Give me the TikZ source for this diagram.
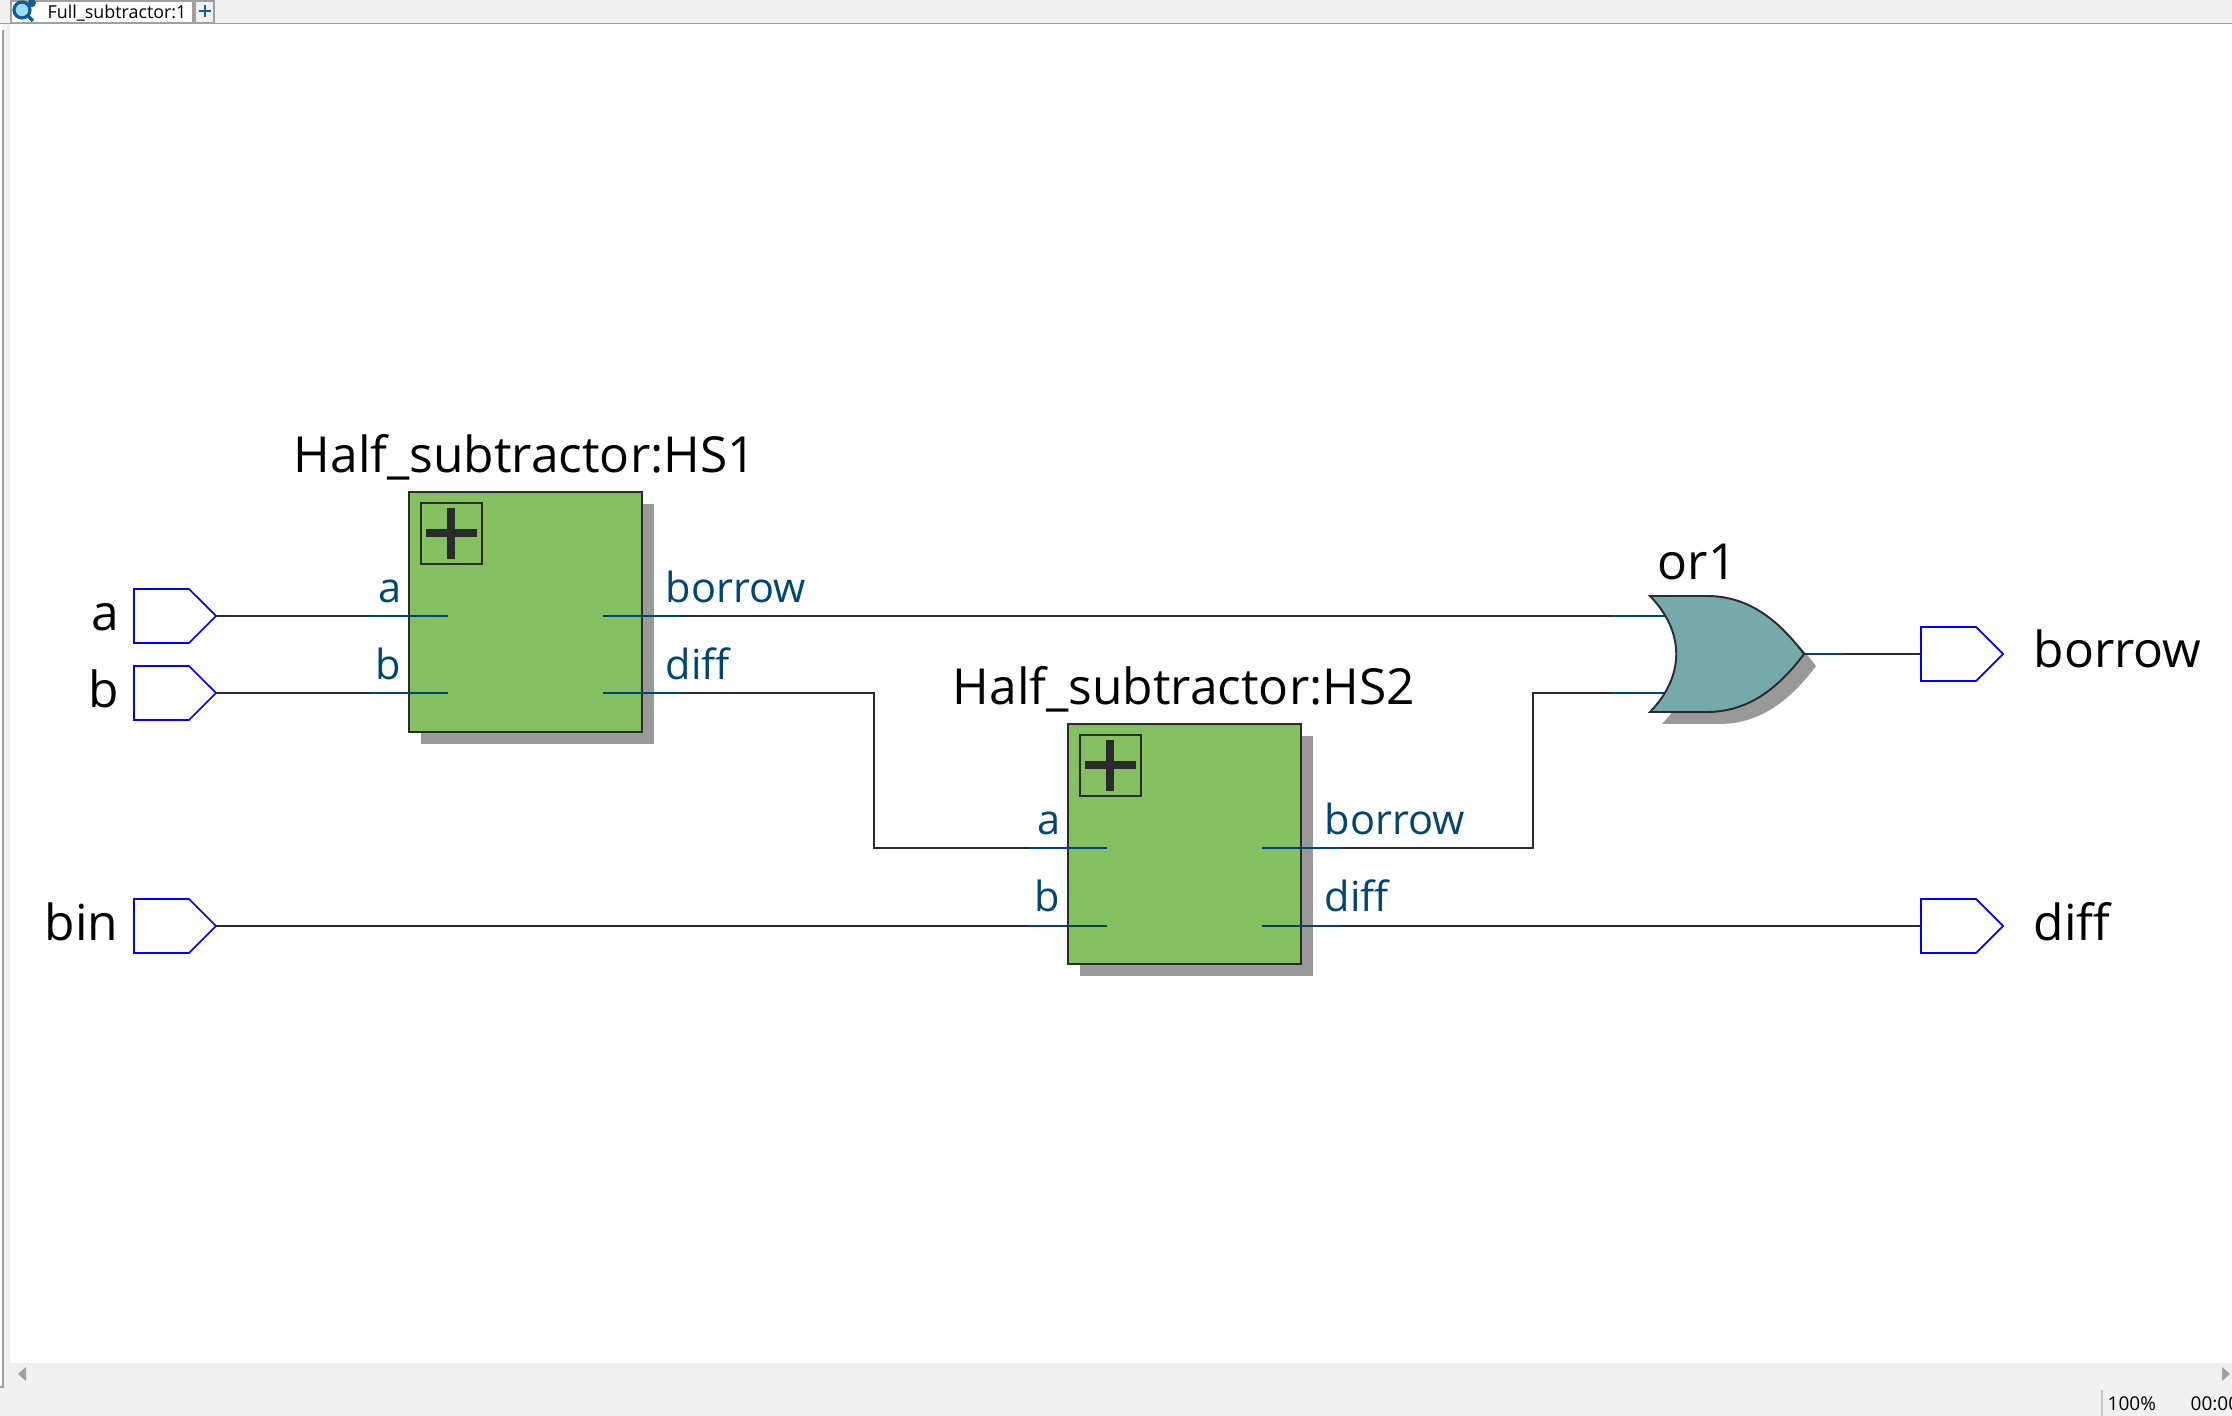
\documentclass[tikz,border=0pt]{standalone}
\usepackage{fontspec}
\setmainfont{Open Sans}
\usetikzlibrary{shapes.symbols,shadows}
\definecolor{barGray}{HTML}{F0F0F0}
\definecolor{edgeGray}{HTML}{A0A0A0}
\definecolor{shadowGray}{HTML}{999999}
\definecolor{wireDark}{HTML}{2B2B2B}
\definecolor{portBlue}{HTML}{004673}
\definecolor{pinBlue}{HTML}{0000FF}
\definecolor{boxGreen}{HTML}{84BF60}
\definecolor{gateTeal}{HTML}{74ABAA}
\definecolor{iconBlue}{HTML}{0F5C96}
\tikzset{
  wire/.style={draw=wireDark,line width=0.47pt},
  stub/.style={draw=portBlue,line width=0.5pt},
  pin/.style={signal,signal to=east,signal pointer angle=90,draw=pinBlue,line width=0.5pt,anchor=west,
    minimum width=82*0.01cm,minimum height=54*0.01cm,inner sep=0pt,outer sep=0pt},
  block/.style={draw=wireDark,line width=0.6pt,fill=boxGreen,anchor=north west,
    minimum width=233*0.01cm,minimum height=240*0.01cm,inner sep=0pt,outer sep=0pt,
    general shadow={shadow xshift=0.12cm,shadow yshift=-0.12cm,fill=shadowGray,draw=none}},
  bigtext/.style={font=\fontsize{14.13}{16}\selectfont,text=black,inner sep=0pt},
  porttext/.style={font=\fontsize{11.8}{14}\selectfont,text=portBlue,inner sep=0pt},
  bartext/.style={font=\fontsize{5.4}{7}\selectfont,text=black,inner sep=0pt,anchor=base west}
}
\begin{document}
\begin{tikzpicture}[x=0.01cm,y=-0.01cm]
  \useasboundingbox (0,0) rectangle (2232,1416);
  % window
  \fill[barGray] (0,0) rectangle (2232,1416);
  \fill[white] (10,24) rectangle (2232,1363);
  \fill[white] (0,24) rectangle (3,1387);
  \draw[edgeGray,line width=0.4pt] (3,30) -- (3,1387) -- (0,1387);
  \draw[edgeGray,line width=0.4pt] (0,23.5) -- (2232,23.5);
  \draw[edgeGray,fill=white,line width=0.4pt] (11,1) rectangle (193,23);
  \draw[edgeGray,fill=barGray,line width=0.4pt] (195,1) rectangle (214,23);
  \draw[iconBlue,line width=0.6pt] (205,5) -- (205,17) (199,11) -- (211,11);
  \draw[iconBlue,fill=cyan!40,line width=0.9pt] (22,10) circle (8);
  \draw[iconBlue,line width=1pt] (28,16) -- (33,21);
  \fill[iconBlue] (32,3) circle (4);
  \node[bartext,font=\fontsize{5.08}{7}\selectfont] (tabtext) at (47,19) {Full\_subtractor:1};
  \fill[edgeGray] (26,1367) -- (26,1381) -- (18,1374) -- cycle;
  \fill[edgeGray] (2222,1367) -- (2222,1381) -- (2230,1374) -- cycle;
  \draw[edgeGray!60,line width=0.4pt] (2102,1390) -- (2102,1416);
  \node[bartext] (zoomtext) at (2107,1410) {100\%};
  \node[bartext] (timetext) at (2190,1410) {00:00};
  % blocks
  \foreach \id / \x / \y in {hs1/409/492, hs2/1068/724}{
    \node[block] (\id) at (\x,\y) {};
    \draw[wireDark,line width=0.5pt] (\x+12,\y+11) rectangle (\x+73,\y+72);
    \draw[wireDark,line width=2pt] (\x+17,\y+41) -- (\x+68,\y+41) (\x+42,\y+16) -- (\x+42,\y+67);
  }
  % gate
  \def\orGate{(1650,596) -- (1707,596) .. controls (1750,596) and (1780,622) .. (1804,654)
    .. controls (1780,686) and (1750,712) .. (1707,712) -- (1650,712)
    .. controls (1685,676) and (1685,632) .. (1650,596) -- cycle}
  \fill[shadowGray,shift={(12,12)}] \orGate;
  % ports: id / outer x / inner x / y
  \def\Ports{
    hs1a/370/448/616,
    hs1b/370/448/693,
    hs1borrow/681/603/616,
    hs1diff/681/603/693,
    hs2a/1029/1107/848,
    hs2b/1029/1107/926,
    hs2borrow/1340/1262/848,
    hs2diff/1340/1262/926,
    or1a/1611/1667/616,
    or1b/1611/1667/693}
  \foreach \id / \x / \z / \y in \Ports{
    \coordinate (\id) at (\x,\y);
    \coordinate (\id in) at (\z,\y);
    \path[stub] (\id) -- (\id in);
  }
  \coordinate (or1out) at (1804,654);
  \coordinate (or1stub) at (1843,654);
  \path[stub] (or1out) -- (or1stub);
  \path[draw=wireDark,line width=0.55pt,fill=gateTeal] \orGate;
  % pins: id / x / y
  \def\Pins{
    pina/134/616,
    pinb/134/693,
    pinbin/134/926,
    pinborrow/1921/654,
    pindiff/1921/926}
  \foreach \id / \x / \y in \Pins{
    \node[pin] (\id) at (\x,\y) {};
  }
  \path[wire] (pina.east) -- (hs1a);
  \path[wire] (pinb.east) -- (hs1b);
  \path[wire] (pinbin.east) -- (hs2b);
  \path[wire] (hs1borrow) -- (or1a);
  \path[wire] (hs1diff) -- (874,693) -- (874,848) -- (hs2a);
  \path[wire] (hs2borrow) -- (1533,848) -- (1533,693) -- (or1b);
  \path[wire] (hs2diff) -- (pindiff.west);
  \path[wire] (or1stub) -- (pinborrow.west);
  % texts
  \node[bigtext,anchor=base west] (hs1name) at (293,473) {Half\_subtractor:HS1};
  \node[bigtext,anchor=base west] (hs2name) at (952,705) {Half\_subtractor:HS2};
  \node[bigtext,anchor=base west] (or1name) at (1657,580) {or1};
  \node[bigtext,anchor=base east] (pinaname) at (120,631) {a};
  \node[bigtext,anchor=base east] (pinbname) at (120,708) {b};
  \node[bigtext,anchor=base east] (pinbinname) at (119,941) {bin};
  \node[bigtext,anchor=base west] (pinborrowname) at (2033,668) {borrow};
  \node[bigtext,anchor=base west] (pindiffname) at (2033,941) {diff};
  \foreach \id / \x / \y / \t / \a in {
    hs1atext/402/603/a/east, hs1btext/402/680/b/east,
    hs1borrowtext/665/603/borrow/west, hs1difftext/665/680/diff/west,
    hs2atext/1061/835/a/east, hs2btext/1061/912/b/east,
    hs2borrowtext/1324/835/borrow/west, hs2difftext/1324/912/diff/west}{
    \node[porttext,anchor=base \a] (\id) at (\x,\y) {\t};
  }
\end{tikzpicture}
\end{document}
